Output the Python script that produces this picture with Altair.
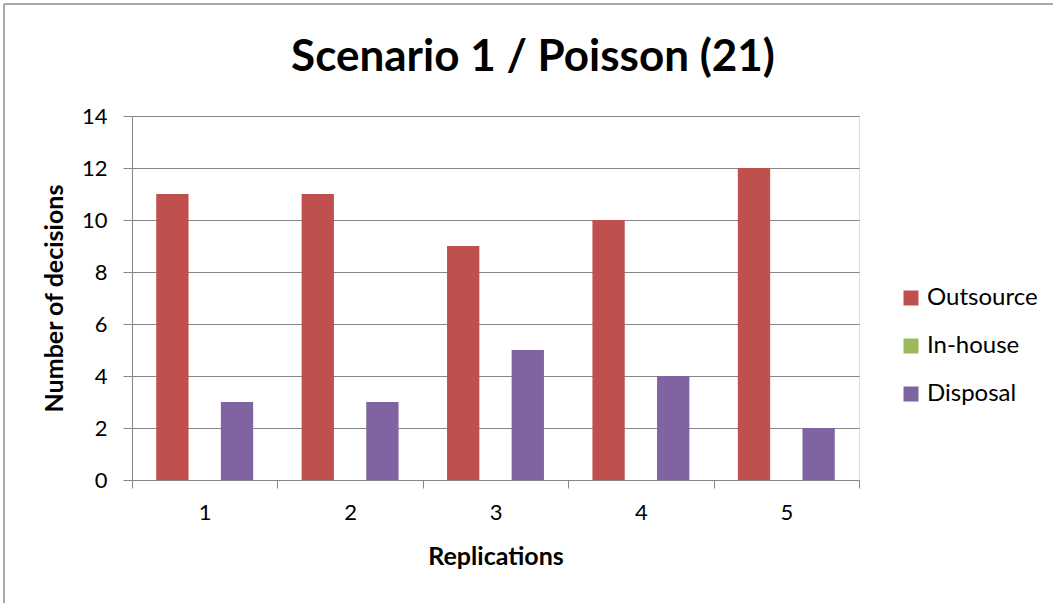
import altair as alt
import pandas as pd

# Decisions per replication for each decision type
replications = ["1", "2", "3", "4", "5"]
decision_types = ["Outsource", "In-house", "Disposal"]
outsource = [11, 11, 9, 10, 12]
in_house = [0, 0, 0, 0, 0]
disposal = [3, 3, 5, 4, 2]
colors = ["#C0504D", "#9BBB59", "#8064A2"]
chart_title = "Scenario 1 / Poisson (21)"

rows = []
for name, series in zip(decision_types, [outsource, in_house, disposal]):
    for rep, val in zip(replications, series):
        rows.append({"Replication": rep, "Decision": name, "Count": val})
df = pd.DataFrame(rows)

FONT = "Lato"
GRID = "#868686"

bars = alt.Chart(df).mark_bar().encode(
    x=alt.X(
        "Replication:N",
        sort=replications,
        scale=alt.Scale(paddingInner=0, paddingOuter=0),
        axis=alt.Axis(
            title="Replications",
            labelAngle=0,
            tickBand="extent",
            tickSize=8,
            tickColor=GRID,
            domainColor=GRID,
            labelFont=FONT,
            labelFontSize=22,
            labelColor="#000000",
            labelPadding=14,
            titleFont=FONT,
            titleFontSize=25,
            titleFontWeight="bold",
            titleColor="#000000",
            titlePadding=21,
            grid=False,
        ),
    ),
    xOffset=alt.XOffset(
        "Decision:N",
        sort=decision_types,
        scale=alt.Scale(paddingInner=0, paddingOuter=0.75),
    ),
    y=alt.Y(
        "Count:Q",
        scale=alt.Scale(domain=[0, 14], nice=False),
        axis=alt.Axis(
            title="Number of decisions",
            values=list(range(0, 15, 2)),
            tickSize=9,
            tickColor=GRID,
            domainColor=GRID,
            gridColor=GRID,
            labelFont=FONT,
            labelFontSize=22,
            labelColor="#000000",
            labelPadding=16,
            titleFont=FONT,
            titleFontSize=25,
            titleFontWeight="bold",
            titleColor="#000000",
            titlePadding=14,
        ),
    ),
    color=alt.Color(
        "Decision:N",
        sort=decision_types,
        scale=alt.Scale(domain=decision_types, range=colors),
        legend=alt.Legend(
            title=None,
            orient="none",
            legendX=767,
            legendY=170,
            padding=0,
            symbolType="square",
            symbolSize=225,
            symbolStrokeWidth=0,
            labelFont=FONT,
            labelFontSize=24,
            labelColor="#000000",
            labelOffset=4,
            rowPadding=24,
        ),
    ),
)

one_row = pd.DataFrame({"k": [0]})

# Chart title, centred over the whole chart area
title = alt.Chart(one_row).mark_text(
    text=chart_title,
    font=FONT,
    fontSize=44,
    fontWeight="bold",
    color="#000000",
    align="center",
    baseline="alphabetic",
).encode(x=alt.value(401), y=alt.value(-45))

# Chart-area frame (left and top edges)
frame_left = alt.Chart(one_row).mark_rule(color="#8C8C8C", strokeWidth=1.5).encode(
    x=alt.value(-128), y=alt.value(-112), y2=alt.value(487)
)
frame_top = alt.Chart(one_row).mark_rule(color="#8C8C8C", strokeWidth=1.5).encode(
    x=alt.value(-128), x2=alt.value(921), y=alt.value(-112)
)

chart = (
    alt.layer(bars, title, frame_left, frame_top)
    .properties(
        width=727,
        height=364,
        padding={"left": 132, "top": 116, "right": 194, "bottom": 123},
        autosize=alt.AutoSizeParams(type="none"),
    )
    .configure_view(stroke=None)
    .configure(background="#FFFFFF")
)

chart.save("out.html", embed_options={"renderer": "svg", "actions": False})
